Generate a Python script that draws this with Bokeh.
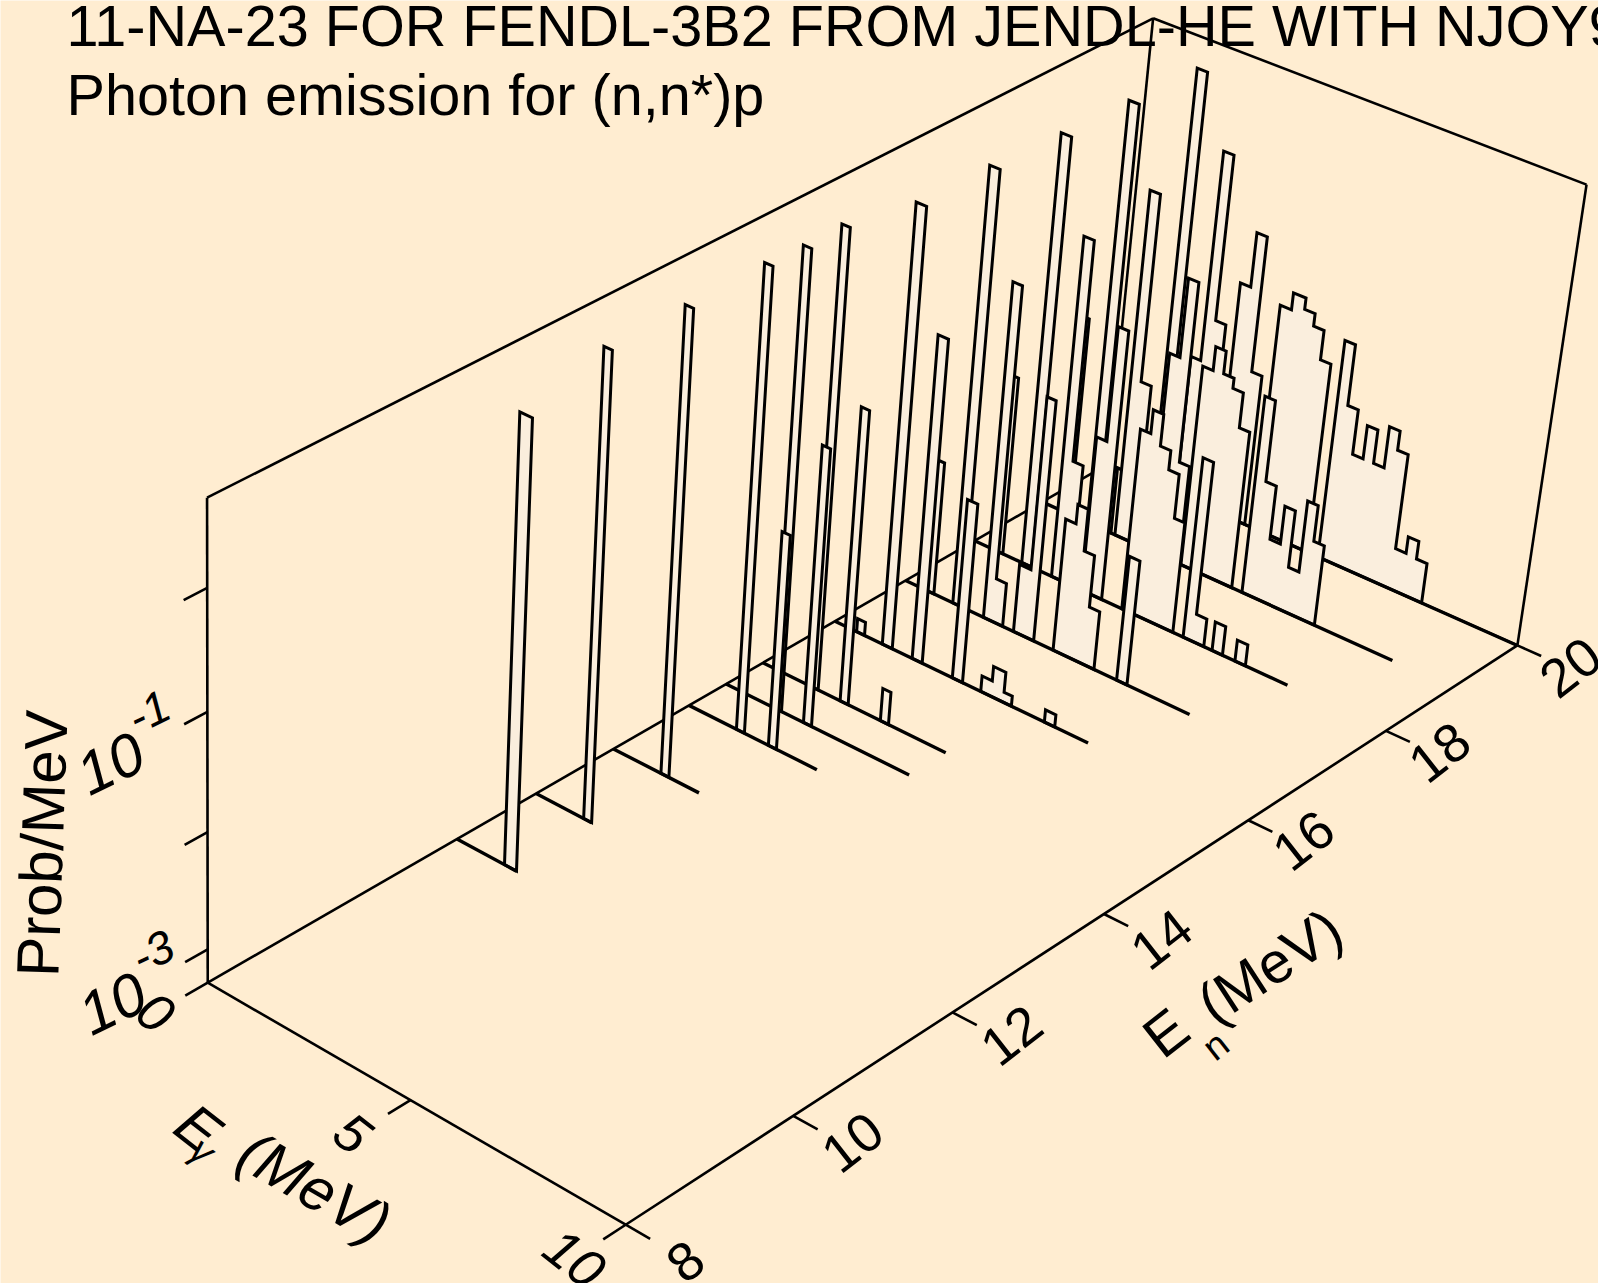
import numpy as np
from bokeh.plotting import figure
from bokeh.models import Range1d
from bokeh.core.properties import value
from bokeh.embed import file_html
from bokeh.resources import INLINE

BG = "#ffedd1"
FILL = "#faeedd"

title_1 = "11-NA-23 FOR FENDL-3B2 FROM JENDL-HE WITH NJOY99"
title_2 = "Photon emission for (n,n*)p"

en_min, en_max = 8.0, 20.0
eg_min, eg_max = 0.0, 10.0
logp_min, logp_max = -3.29, 0.71

en_ticks = [8, 10, 12, 14, 16, 18, 20]
eg_ticks = [0, 5, 10]
logp_ticks = [-3, -2, -1, 0]

en_levels = [11, 12, 13, 14, 14.5, 15, 16, 17, 18, 19, 20]
eg_ends = [1.5, 1.4, 2.15, 3.2, 4.55, 4.55, 6.25, 7.0, 7.7, 8.6, 10.0]

# (Eg low, Eg high, log10 prob/MeV) for each incident energy
bins_11 = [(1.2, 1.5, 0.52)]
bins_12 = [(1.2, 1.4, 0.70)]
bins_13 = [(1.2, 1.4, 0.70)]
bins_14 = [(1.2, 1.4, 0.71), (2.0, 2.2, -1.41)]
bins_14h = [(1.2, 1.4, 0.69), (1.95, 2.15, -0.86)]
bins_15 = [(1.2, 1.4, 0.70), (1.95, 2.15, -0.71), (2.95, 3.15, -3.0)]
bins_16 = [(0.55, 0.75, -3.17), (1.2, 1.45, 0.56), (1.95, 2.2, -0.44), (2.95, 3.2, -1.7),
           (3.65, 3.9, -3.15), (3.9, 4.2, -3.02), (4.2, 4.4, -3.2), (5.2, 5.45, -3.18)]
bins_17 = [(0.5, 0.72, -2.1), (1.2, 1.45, 0.55), (1.97, 2.2, -0.32), (2.2, 2.45, -2.9),
           (2.72, 3.0, -2.68), (3.0, 3.22, -1.15), (3.7, 3.95, -2.11), (3.95, 4.2, -1.94),
           (4.2, 4.45, -2.31), (4.45, 4.7, -2.77), (5.25, 5.5, -2.18)]
bins_18 = [(0.5, 0.72, -1.69), (1.2, 1.45, 0.51), (1.95, 2.2, -0.26), (2.2, 2.45, -2.2),
           (2.7, 2.95, -1.9), (2.95, 3.2, -0.89), (3.7, 3.95, -1.67), (3.95, 4.2, -1.46),
           (4.2, 4.45, -1.74), (4.45, 4.7, -1.91), (4.7, 4.95, -2.3), (5.2, 5.45, -1.68),
           (5.45, 5.7, -3.04), (5.9, 6.15, -3.03), (6.45, 6.7, -3.1)]
bins_19 = [(0.5, 0.72, -1.5), (1.15, 1.4, 0.47), (1.5, 1.75, -2.7), (1.85, 2.1, -0.2),
           (2.1, 2.35, -1.85), (2.7, 2.95, -1.5), (2.95, 3.2, -0.8), (3.2, 3.45, -2.4),
           (3.5, 3.75, -1.49), (3.75, 4.0, -1.28), (4.0, 4.25, -1.48), (4.25, 4.5, -1.57),
           (4.5, 4.75, -1.88), (5.0, 5.25, -1.52), (5.25, 5.5, -2.24), (5.5, 5.75, -2.72),
           (5.75, 6.0, -2.38), (6.0, 6.25, -2.89), (6.25, 6.5, -2.25), (6.5, 6.75, -2.57)]
bins_20 = [(1.15, 1.4, 0.44), (1.73, 1.97, -2.02), (1.97, 2.22, -0.16),
           (2.22, 2.47, -1.62), (2.7, 2.95, -1.21), (2.95, 3.2, -0.73), (3.2, 3.45, -1.93),
           (3.68, 3.95, -1.26), (3.95, 4.25, -1.11), (4.25, 4.5, -1.21), (4.5, 4.75, -1.32),
           (4.75, 5.0, -1.58), (5.25, 5.5, -1.33), (5.5, 5.75, -1.87), (5.75, 6.0, -2.27),
           (6.0, 6.25, -1.97), (6.25, 6.5, -2.27), (6.5, 6.75, -1.9), (6.75, 7.0, -2.07),
           (7.0, 7.25, -2.92), (7.25, 7.5, -2.77), (7.5, 7.75, -2.93)]
all_bins = [bins_11, bins_12, bins_13, bins_14, bins_14h, bins_15, bins_16, bins_17, bins_18, bins_19, bins_20]

# Camera calibration: (En, Eg, log10 P) -> page pixel
cal_world = [(8, 0, -3.29), (8, 10, -3.29), (20, 10, -3.29), (20, 0, -3.29), (8, 0, .71), (20, 0, .71), (20, 10, .71),
             (10, 10, -3.29), (12, 10, -3.29), (14, 10, -3.29), (16, 10, -3.29), (18, 10, -3.29), (8, 5, -3.29),
             (8, 0, -3), (8, 0, -2), (8, 0, -1), (8, 0, 0)]
cal_page = [(207, 981.5), (624, 1225), (1515.5, 645), (1108, 465), (207, 498), (1152, 16), (1586, 185),
            (793, 1115), (951, 1012), (1104, 913), (1250, 818), (1386, 731), (410, 1100),
            (207, 948), (207, 832), (207, 711), (207, 588)]

A, b = [], []
for (X, Y, Z), (u, v) in zip(cal_world, cal_page):
    A.append([X, Y, Z, 1, 0, 0, 0, 0, -u * X, -u * Y, -u * Z]); b.append(u)
    A.append([0, 0, 0, 0, X, Y, Z, 1, -v * X, -v * Y, -v * Z]); b.append(v)
M = np.linalg.lstsq(np.array(A, float), np.array(b, float), rcond=None)[0]
M = np.append(M, 1.0).reshape(3, 4)


def proj(en, eg, z):
    pts = np.column_stack([en, eg, z, np.ones(len(en))])
    h = pts @ M.T
    return h[:, 0] / h[:, 2], h[:, 1] / h[:, 2]


def seg(p, a, b_, w=2.6):
    x, y = proj(np.array([a[0], b_[0]], float), np.array([a[1], b_[1]], float), np.array([a[2], b_[2]], float))
    p.line(x, y, line_color="black", line_width=w)


p = figure(width=1598, height=1283, x_range=Range1d(0, 1598), y_range=Range1d(1283, 0),
           output_backend="svg", toolbar_location=None, background_fill_color=BG, border_fill_color=BG,
           min_border=0, outline_line_color=None)
p.axis.visible = False
p.grid.visible = False

zb, zt = logp_min, logp_max
# walls and floor
for a, c in [((8, 0, zb), (8, 0, zt)), ((8, 0, zt), (20, 0, zt)), ((20, 0, zt), (20, 0, zb)), ((20, 0, zb), (8, 0, zb)),
             ((20, 0, zt), (20, 10, zt)), ((20, 10, zt), (20, 10, zb)), ((20, 10, zb), (20, 0, zb)),
             ((8, 0, zb), (8, 10, zb)), ((8, 10, zb), (20, 10, zb))]:
    seg(p, a, c)
# ticks
for en in en_ticks:
    seg(p, (en, 10, zb), (en, 10.55, zb))
for eg in eg_ticks:
    seg(p, (8, eg, zb), (7.74, eg, zb))
for z in logp_ticks:
    seg(p, (8, 0, z), (7.74, 0, z))

# spectra, back to front
for en, end, bins in reversed(list(zip(en_levels, eg_ends, all_bins))):
    groups, cur = [], []
    for lo, hi, z in bins:
        if cur and abs(cur[-1][1] - lo) > 0.02:
            groups.append(cur); cur = []
        cur.append((lo, hi, z))
    if cur:
        groups.append(cur)
    xs, ys = [], []
    for g in groups:
        eg, zz = [g[0][0]], [zb]
        for lo, hi, z in g:
            eg += [lo, hi]; zz += [z, z]
        eg.append(g[-1][1]); zz.append(zb)
        x, y = proj(np.full(len(eg), float(en)), np.array(eg), np.array(zz))
        xs.append(list(x)); ys.append(list(y))
    p.patches(xs, ys, fill_color=FILL, line_color="black", line_width=3, line_join="miter")
    x, y = proj(np.array([en, en], float), np.array([0, end], float), np.array([zb, zb]))
    p.line(x, y, line_color="black", line_width=3.4)


def txt(x, y, s, size, angle=0.0, style="normal", align="center", base="middle"):
    p.text([x], [y], text=[s], angle=np.radians(angle), text_font=value("Liberation Sans"),
           text_font_size=f"{size}px", text_font_style=style, text_align=align, text_baseline=base,
           text_color="black")


txt(66, 25, title_1, 57.6, align="left", base="alphabetic")
txt(66, 94, title_2, 57.6, align="left", base="alphabetic")

# left axis labels
txt(42, 843, "Prob/MeV", 60, 88)
txt(110, 763, "10", 60, 26, "italic")
txt(148, 711, "-1", 46, 26, "italic")
txt(112, 1003, "10", 60, 26, "italic")
txt(152, 951, "-3", 46, 26, "italic")
# Eg labels
txt(155, 1012, "0", 54, -38, "italic")
txt(352, 1133, "5", 54, -38, "italic")
txt(574, 1258, "10", 54, -38, "italic")
txt(198, 1127, "E", 58, -38, "italic")
txt(202, 1150, "\u03b3", 38, -38, "italic")
txt(314, 1187, "(MeV)", 60, -30, "italic")
# En labels
for en, lx, ly in zip(en_ticks, [685, 852, 1011, 1161, 1303, 1439, 1570], [1261, 1142, 1035, 939, 840, 752, 667]):
    txt(lx, ly, str(en), 54, 38)
txt(1165, 1032, "E", 58, 38)
txt(1215, 1045, "n", 38, 38)
txt(1269, 965, "(MeV)", 58, 33)

html = file_html(p, INLINE)
open("out.html", "w").write(html)
